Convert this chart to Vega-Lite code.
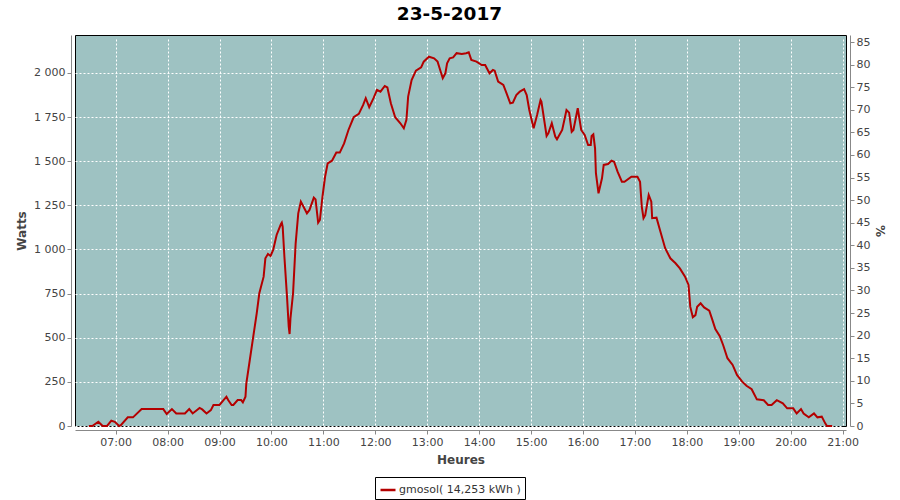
{
  "$schema": "https://vega.github.io/schema/vega-lite/v6.json",
  "width": 771,
  "height": 391,
  "autosize": "none",
  "padding": {"left": 75, "top": 35, "right": 54, "bottom": 74},
  "background": "white",
  "title": {"text": "23-5-2017", "font": "DejaVu Sans", "fontSize": 18.5, "fontWeight": "bold", "color": "#000", "anchor": "middle", "dx": -11, "offset": 12},
  "config": {
    "locale": {"number": {"decimal": ",", "thousands": " ", "grouping": [3], "currency": ["", ""]}},
    "view": {"fill": "#9ec2c2", "stroke": "#000", "strokeWidth": 1},
    "axis": {"labelFont": "DejaVu Sans", "labelFontSize": 11, "labelColor": "#444", "titleFont": "DejaVu Sans", "titleFontSize": 12, "titleFontWeight": "bold", "titleColor": "#444", "domainColor": "#888", "tickColor": "#888", "tickSize": 4, "offset": 4, "gridColor": "#ffffff", "gridDash": [2, 2], "gridWidth": 1, "gridOpacity": 1, "labelPadding": 2}
  },
  "layer": [
    {
      "data": {
        "format": {"parse": {"t": "utc:'%H:%M'"}},
        "values": [
          {"t": "06:29", "w": 0}, {"t": "06:33", "w": 0}, {"t": "06:40", "w": 24}, {"t": "06:45", "w": 0}, {"t": "06:50", "w": 0},
          {"t": "06:55", "w": 30}, {"t": "06:59", "w": 24}, {"t": "07:04", "w": 0}, {"t": "07:06", "w": 5}, {"t": "07:14", "w": 49},
          {"t": "07:20", "w": 49}, {"t": "07:30", "w": 96}, {"t": "07:55", "w": 96}, {"t": "07:59", "w": 68}, {"t": "08:05", "w": 96},
          {"t": "08:10", "w": 71}, {"t": "08:20", "w": 71}, {"t": "08:25", "w": 96}, {"t": "08:29", "w": 71}, {"t": "08:37", "w": 102},
          {"t": "08:40", "w": 94}, {"t": "08:45", "w": 71}, {"t": "08:50", "w": 90}, {"t": "08:53", "w": 119}, {"t": "09:00", "w": 119},
          {"t": "09:08", "w": 166}, {"t": "09:10", "w": 147}, {"t": "09:14", "w": 119}, {"t": "09:16", "w": 119}, {"t": "09:21", "w": 147},
          {"t": "09:25", "w": 147}, {"t": "09:27", "w": 134}, {"t": "09:30", "w": 166}, {"t": "09:31", "w": 242}, {"t": "09:35", "w": 374},
          {"t": "09:39", "w": 506}, {"t": "09:43", "w": 638}, {"t": "09:46", "w": 752}, {"t": "09:51", "w": 846}, {"t": "09:53", "w": 950},
          {"t": "09:56", "w": 974}, {"t": "09:59", "w": 963}, {"t": "10:02", "w": 997}, {"t": "10:06", "w": 1082}, {"t": "10:11", "w": 1144},
          {"t": "10:12", "w": 1152}, {"t": "10:13", "w": 1129}, {"t": "10:15", "w": 959}, {"t": "10:18", "w": 733}, {"t": "10:20", "w": 563},
          {"t": "10:21", "w": 521}, {"t": "10:22", "w": 610}, {"t": "10:25", "w": 752}, {"t": "10:28", "w": 1035}, {"t": "10:31", "w": 1205},
          {"t": "10:34", "w": 1271}, {"t": "10:41", "w": 1205}, {"t": "10:44", "w": 1224}, {"t": "10:49", "w": 1294}, {"t": "10:51", "w": 1284},
          {"t": "10:54", "w": 1152}, {"t": "10:56", "w": 1167}, {"t": "10:59", "w": 1299}, {"t": "11:02", "w": 1412}, {"t": "11:05", "w": 1488},
          {"t": "11:10", "w": 1503}, {"t": "11:15", "w": 1549}, {"t": "11:19", "w": 1549}, {"t": "11:24", "w": 1601}, {"t": "11:29", "w": 1677},
          {"t": "11:35", "w": 1749}, {"t": "11:41", "w": 1768}, {"t": "11:46", "w": 1819}, {"t": "11:49", "w": 1857}, {"t": "11:53", "w": 1806},
          {"t": "11:58", "w": 1857}, {"t": "12:02", "w": 1904}, {"t": "12:06", "w": 1894}, {"t": "12:11", "w": 1926}, {"t": "12:14", "w": 1918},
          {"t": "12:18", "w": 1828}, {"t": "12:23", "w": 1749}, {"t": "12:29", "w": 1715}, {"t": "12:33", "w": 1687}, {"t": "12:36", "w": 1734},
          {"t": "12:38", "w": 1866}, {"t": "12:42", "w": 1960}, {"t": "12:47", "w": 2013}, {"t": "12:53", "w": 2032}, {"t": "12:56", "w": 2064},
          {"t": "13:02", "w": 2092}, {"t": "13:08", "w": 2083}, {"t": "13:12", "w": 2064}, {"t": "13:15", "w": 2017}, {"t": "13:18", "w": 1970},
          {"t": "13:21", "w": 1998}, {"t": "13:23", "w": 2055}, {"t": "13:26", "w": 2083}, {"t": "13:30", "w": 2088}, {"t": "13:34", "w": 2112},
          {"t": "13:40", "w": 2107}, {"t": "13:45", "w": 2112}, {"t": "13:48", "w": 2117}, {"t": "13:51", "w": 2074}, {"t": "13:57", "w": 2064},
          {"t": "14:03", "w": 2045}, {"t": "14:07", "w": 2045}, {"t": "14:12", "w": 1998}, {"t": "14:16", "w": 2017}, {"t": "14:18", "w": 2013},
          {"t": "14:22", "w": 1951}, {"t": "14:28", "w": 1932}, {"t": "14:31", "w": 1894}, {"t": "14:36", "w": 1828}, {"t": "14:39", "w": 1832},
          {"t": "14:43", "w": 1875}, {"t": "14:47", "w": 1894}, {"t": "14:52", "w": 1908}, {"t": "14:55", "w": 1875}, {"t": "14:58", "w": 1790},
          {"t": "15:03", "w": 1687}, {"t": "15:07", "w": 1762}, {"t": "15:11", "w": 1847}, {"t": "15:12", "w": 1838}, {"t": "15:18", "w": 1643},
          {"t": "15:20", "w": 1658}, {"t": "15:24", "w": 1715}, {"t": "15:28", "w": 1640}, {"t": "15:30", "w": 1624}, {"t": "15:36", "w": 1677},
          {"t": "15:41", "w": 1790}, {"t": "15:44", "w": 1775}, {"t": "15:47", "w": 1667}, {"t": "15:49", "w": 1677}, {"t": "15:54", "w": 1800},
          {"t": "15:58", "w": 1677}, {"t": "16:02", "w": 1649}, {"t": "16:06", "w": 1592}, {"t": "16:09", "w": 1592}, {"t": "16:10", "w": 1643},
          {"t": "16:12", "w": 1652}, {"t": "16:14", "w": 1573}, {"t": "16:15", "w": 1432}, {"t": "16:18", "w": 1318}, {"t": "16:22", "w": 1403},
          {"t": "16:24", "w": 1479}, {"t": "16:29", "w": 1484}, {"t": "16:33", "w": 1503}, {"t": "16:36", "w": 1497}, {"t": "16:40", "w": 1441},
          {"t": "16:45", "w": 1384}, {"t": "16:48", "w": 1384}, {"t": "16:56", "w": 1412}, {"t": "17:03", "w": 1412}, {"t": "17:06", "w": 1384},
          {"t": "17:08", "w": 1243}, {"t": "17:10", "w": 1177}, {"t": "17:12", "w": 1194}, {"t": "17:16", "w": 1309}, {"t": "17:19", "w": 1271},
          {"t": "17:20", "w": 1177}, {"t": "17:25", "w": 1180}, {"t": "17:29", "w": 1110}, {"t": "17:35", "w": 1007}, {"t": "17:41", "w": 950},
          {"t": "17:47", "w": 922}, {"t": "17:52", "w": 893}, {"t": "17:58", "w": 846}, {"t": "18:02", "w": 799}, {"t": "18:04", "w": 676},
          {"t": "18:07", "w": 616}, {"t": "18:10", "w": 628}, {"t": "18:12", "w": 676}, {"t": "18:16", "w": 695}, {"t": "18:20", "w": 672},
          {"t": "18:26", "w": 653}, {"t": "18:29", "w": 610}, {"t": "18:33", "w": 549}, {"t": "18:38", "w": 510}, {"t": "18:42", "w": 459},
          {"t": "18:47", "w": 384}, {"t": "18:53", "w": 346}, {"t": "18:58", "w": 289}, {"t": "19:04", "w": 251}, {"t": "19:09", "w": 228},
          {"t": "19:15", "w": 208}, {"t": "19:21", "w": 151}, {"t": "19:29", "w": 146}, {"t": "19:34", "w": 119}, {"t": "19:38", "w": 119},
          {"t": "19:44", "w": 146}, {"t": "19:51", "w": 128}, {"t": "19:56", "w": 100}, {"t": "20:03", "w": 100}, {"t": "20:07", "w": 71},
          {"t": "20:12", "w": 96}, {"t": "20:15", "w": 71}, {"t": "20:21", "w": 49}, {"t": "20:27", "w": 71}, {"t": "20:31", "w": 49},
          {"t": "20:36", "w": 53}, {"t": "20:40", "w": 15}, {"t": "20:42", "w": 0}, {"t": "20:48", "w": 0}
        ]
      },
      "mark": {"type": "line", "strokeWidth": 2, "interpolate": "linear"},
      "encoding": {
        "x": {
          "field": "t", "type": "temporal",
          "scale": {"type": "utc", "nice": false, "domain": [
            {"year": 1900, "month": 1, "date": 1, "hours": 6, "minutes": 13, "utc": true},
            {"year": 1900, "month": 1, "date": 1, "hours": 21, "minutes": 4, "utc": true}
          ]},
          "axis": {"title": "Heures", "format": "%H:%M", "grid": true, "labelFlush": false, "labelOverlap": false, "titlePadding": 7}
        },
        "y": {
          "field": "w", "type": "quantitative",
          "scale": {"domain": [0, 2215], "nice": false, "zero": true},
          "axis": {"title": "Watts", "values": [0, 250, 500, 750, 1000, 1250, 1500, 1750, 2000], "format": ",d", "grid": true, "titlePadding": 5}
        },
        "color": {
          "datum": "gmosol( 14,253 kWh )", "type": "nominal",
          "scale": {"range": ["#b40000"]},
          "legend": {"title": null, "orient": "none", "legendX": 300, "legendY": 442, "direction": "horizontal", "symbolType": "stroke", "symbolSize": 225, "symbolStrokeWidth": 2.5, "labelFont": "DejaVu Sans", "labelFontSize": 11, "labelColor": "#333", "strokeColor": "#000", "fillColor": "#fff", "padding": 4, "labelOffset": 2, "cornerRadius": 0}
        }
      }
    },
    {
      "data": {"values": [{"pct": 0}, {"pct": 85}]},
      "mark": {"type": "point", "opacity": 0},
      "encoding": {
        "y": {
          "field": "pct", "type": "quantitative",
          "scale": {"domain": [0, 86.55], "nice": false},
          "axis": {"orient": "right", "title": "%", "values": [0, 5, 10, 15, 20, 25, 30, 35, 40, 45, 50, 55, 60, 65, 70, 75, 80, 85], "grid": false, "titleAngle": 90, "titlePadding": 3}
        }
      }
    }
  ],
  "resolve": {"scale": {"y": "independent"}}
}
